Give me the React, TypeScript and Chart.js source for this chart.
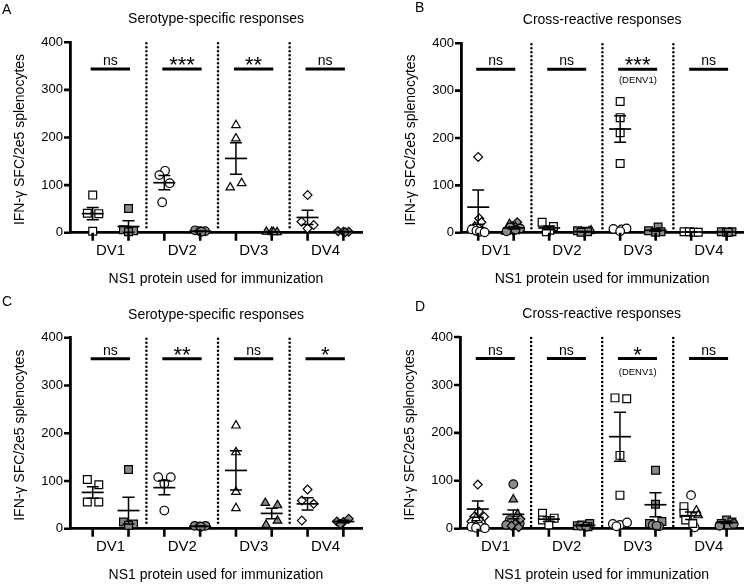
import React, { useEffect, useRef } from 'react';
import { Chart, registerables } from 'chart.js';
Chart.register(...registerables);

const FONT = "'Liberation Sans', Arial, Helvetica, sans-serif";
const GRAY = '#8a8a8a';
const INK = '#000';

// ---------- shared labels ----------
const categories = ['DV1', 'DV2', 'DV3', 'DV4'];
const yTicks = [0, 100, 200, 300, 400];
const slots = [0, 1, 2, 3, 4, 5, 6, 7];
const dividers = [1.5, 3.5, 5.5];
const xTitle = 'NS1 protein used for immunization';
const yTitle = 'IFN-γ SFC/2e5 splenocytes';
const titleSpecific = 'Serotype-specific responses';
const titleCross = 'Cross-reactive responses';
const noteText = '(DENV1)';

// ---------- Panel A : serotype-specific ----------
const aDV1Open = [79, 41, 40, 3];
const aDV1OpenJit = [0, -0.15, 0.17, 0];
const aDV1Filled = [51, 6, 4, 2];
const aDV1FilledJit = [0, -0.14, 0.14, 0];
const aDV2Open = [130, 121, 104, 64];
const aDV2OpenJit = [0.02, -0.14, 0.15, -0.06];
const aDV2Filled = [5, 3, 3, 2];
const aDV2FilledJit = [-0.14, 0, 0.14, 0.04];
const aDV3Open = [226, 198, 95, 104];
const aDV3OpenJit = [0, 0, -0.16, 0.16];
const aDV3Filled = [2, 2, 1, 1];
const aDV3FilledJit = [-0.15, 0, 0.15, 0.05];
const aDV4Open = [79, 23, 16, 9];
const aDV4OpenJit = [0, -0.17, 0.17, 0];
const aDV4Filled = [3, 2, 2, 1];
const aDV4FilledJit = [-0.15, 0, 0.15, 0.05];
const aMean = [40, 13, 105, 3, 156, 1.5, 32, 2];
const aSem = [13, 12, 15, 0.6, 33, 0.3, 15, 0.5];
const aSig = ['ns', '***', '**', 'ns'];
const aSigY = 344;

// ---------- Panel B : cross-reactive ----------
const bDV1OpenDiamond = [160, 30, 22, 4];
const bDV1OpenDiamondJit = [0, 0.03, 0.09, 0.12];
const bDV1OpenCircle = [7, 4, 2, 1];
const bDV1OpenCircleJit = [-0.18, -0.05, 0.05, 0.18];
const bDV1OpenTriangle = [13, 6, 3, 1];
const bDV1OpenTriangleJit = [-0.1, -0.22, 0.12, 0];
const bDV1FilledCircle = [11, 9, 6, 3];
const bDV1FilledCircleJit = [-0.1, 0.18, 0.05, -0.2];
const bDV1FilledTriangle = [18, 12, 6, 2];
const bDV1FilledTriangleJit = [-0.12, 0.05, 0.2, -0.22];
const bDV1FilledDiamond = [22, 14, 7, 3];
const bDV1FilledDiamondJit = [0.1, -0.05, 0.15, 0];
const bDV2OpenSquare = [22, 13, 5, 2];
const bDV2OpenSquareJit = [-0.2, 0.12, 0.02, -0.08];
const bDV2FilledSquare = [4, 3, 2, 1];
const bDV2FilledSquareJit = [-0.2, 0, 0.08, -0.1];
const bDV2FilledTriangle = [5, 3];
const bDV2FilledTriangleJit = [0.18, 0.12];
const bDV3OpenSquare = [277, 243, 211, 146];
const bDV3OpenSquareJit = [0, 0, 0, 0];
const bDV3OpenCircle = [8, 7, 9, 3];
const bDV3OpenCircleJit = [-0.19, 0.04, 0.18, 0];
const bDV3FilledSquare = [12, 4, 2, 1];
const bDV3FilledSquareJit = [0.07, -0.2, 0.15, 0];
const bDV4OpenSquare = [2, 2, 1, 1];
const bDV4OpenSquareJit = [-0.2, -0.05, 0.08, 0.2];
const bDV4FilledSquare = [2, 2, 1, 1];
const bDV4FilledSquareJit = [-0.15, 0.15, 0, 0.05];
const bMean = [54, 10, 10, 2, 219, 5, 1.5, 1.5];
const bSem = [36, 2, 4, 0.5, 28, 2, 0.3, 0.3];
const bSig = ['ns', 'ns', '***', 'ns'];
const bSigY = 345;
const bNoteY = 321;

// ---------- Panel C : serotype-specific ----------
const cDV1Open = [103, 92, 56, 56];
const cDV1OpenJit = [-0.15, 0.17, -0.15, 0.17];
const cDV1Filled = [124, 14, 10, 7];
const cDV1FilledJit = [0, -0.14, 0.14, 0];
const cDV2Open = [108, 108, 94, 38];
const cDV2OpenJit = [-0.17, 0.18, 0, 0];
const cDV2Filled = [6, 5, 6, 4];
const cDV2FilledJit = [-0.15, 0, 0.15, 0.02];
const cDV3Open = [216, 160, 77, 43];
const cDV3OpenJit = [0, 0, 0, 0];
const cDV3Filled = [54, 49, 17, 8];
const cDV3FilledJit = [-0.18, 0.16, 0.16, -0.16];
const cDV4Open = [82, 59, 52, 17];
const cDV4OpenJit = [0, -0.16, 0.17, -0.16];
const cDV4Filled = [21, 15, 14, 10];
const cDV4FilledJit = [0.15, -0.18, 0, -0.08];
const cMean = [76, 38, 86, 5, 122, 32, 52, 15];
const cSem = [12, 28, 15, 0.5, 41, 11, 13, 2.5];
const cSig = ['ns', '**', 'ns', '*'];
const cSigY = 356;

// ---------- Panel D : cross-reactive ----------
const dDV1OpenDiamond = [92, 36, 25, 25, 15, 15];
const dDV1OpenDiamondJit = [0, 0.03, -0.1, 0.18, -0.18, 0.08];
const dDV1OpenTriangle = [22, 10, 5];
const dDV1OpenTriangleJit = [-0.05, 0.15, -0.15];
const dDV1OpenCircle = [4, 4, 2, 1];
const dDV1OpenCircleJit = [-0.18, 0.08, -0.05, 0.2];
const dDV1FilledCircle = [93, 18, 11, 8];
const dDV1FilledCircleJit = [0, -0.1, 0.18, -0.2];
const dDV1FilledTriangle = [61, 30, 12, 5];
const dDV1FilledTriangleJit = [0, 0.12, -0.15, 0.05];
const dDV1FilledDiamond = [20, 10, 6, 3];
const dDV1FilledDiamondJit = [0.2, 0.05, -0.05, 0.15];
const dDV2OpenSquare = [32, 22, 18, 8];
const dDV2OpenSquareJit = [-0.18, 0.15, -0.18, 0];
const dDV2FilledSquare = [11, 8, 6, 4];
const dDV2FilledSquareJit = [0.15, -0.08, -0.2, 0.1];
const dDV2FilledCircle = [6, 4];
const dDV2FilledCircleJit = [-0.1, 0.05];
const dDV3OpenSquare = [273, 271, 153, 70];
const dDV3OpenSquareJit = [-0.14, 0.19, 0, 0];
const dDV3OpenCircle = [10, 8, 13, 5];
const dDV3OpenCircleJit = [-0.2, 0, 0.2, -0.1];
const dDV3FilledSquare = [122, 51, 15, 11];
const dDV3FilledSquareJit = [0, 0, 0.18, -0.17];
const dDV3FilledCircle = [8, 5, 6];
const dDV3FilledCircleJit = [-0.08, 0.1, 0.03];
const dDV4OpenSquare = [46, 32, 18, 11];
const dDV4OpenSquareJit = [-0.2, -0.2, -0.15, 0.05];
const dDV4OpenCircle = [70, 3];
const dDV4OpenCircleJit = [0, 0.1];
const dDV4OpenTriangle = [38, 28];
const dDV4OpenTriangleJit = [0.15, 0.2];
const dDV4FilledSquare = [18, 14, 11, 8];
const dDV4FilledSquareJit = [0, 0.15, -0.15, 0.05];
const dDV4FilledCircle = [10, 6];
const dDV4FilledCircleJit = [0.2, -0.2];
const dMean = [41, 30, 20, 7, 192, 50, 27, 13];
const dSem = [17, 9, 5, 1.5, 51, 25, 8, 2];
const dSig = ['ns', 'ns', '*', 'ns'];
const dSigY = 355;
const dNoteY = 327;

// ---------- styling ----------
const RADIUS: Record<string, number> = { rect: 5.5, circle: 4.3, triangle: 4.9, rectRot: 4.4 };

type Series = { slot: number; shape: string; filled: boolean; values: number[]; jitter: number[] };
const grp = (slot: number, shape: string, filled: boolean, values: number[], jitter: number[]): Series => ({ slot, shape, filled, values, jitter });

const seriesA: Series[] = [
  grp(0, 'rect', false, aDV1Open, aDV1OpenJit), grp(1, 'rect', true, aDV1Filled, aDV1FilledJit),
  grp(2, 'circle', false, aDV2Open, aDV2OpenJit), grp(3, 'circle', true, aDV2Filled, aDV2FilledJit),
  grp(4, 'triangle', false, aDV3Open, aDV3OpenJit), grp(5, 'triangle', true, aDV3Filled, aDV3FilledJit),
  grp(6, 'rectRot', false, aDV4Open, aDV4OpenJit), grp(7, 'rectRot', true, aDV4Filled, aDV4FilledJit),
];
const seriesB: Series[] = [
  grp(0, 'circle', false, bDV1OpenCircle, bDV1OpenCircleJit), grp(0, 'triangle', false, bDV1OpenTriangle, bDV1OpenTriangleJit),
  grp(0, 'rectRot', false, bDV1OpenDiamond, bDV1OpenDiamondJit),
  grp(1, 'circle', true, bDV1FilledCircle, bDV1FilledCircleJit), grp(1, 'triangle', true, bDV1FilledTriangle, bDV1FilledTriangleJit),
  grp(1, 'rectRot', true, bDV1FilledDiamond, bDV1FilledDiamondJit),
  grp(2, 'rect', false, bDV2OpenSquare, bDV2OpenSquareJit),
  grp(3, 'rect', true, bDV2FilledSquare, bDV2FilledSquareJit), grp(3, 'triangle', true, bDV2FilledTriangle, bDV2FilledTriangleJit),
  grp(4, 'circle', false, bDV3OpenCircle, bDV3OpenCircleJit), grp(4, 'rect', false, bDV3OpenSquare, bDV3OpenSquareJit),
  grp(5, 'rect', true, bDV3FilledSquare, bDV3FilledSquareJit),
  grp(6, 'rect', false, bDV4OpenSquare, bDV4OpenSquareJit),
  grp(7, 'rect', true, bDV4FilledSquare, bDV4FilledSquareJit),
];
const seriesC: Series[] = [
  grp(0, 'rect', false, cDV1Open, cDV1OpenJit), grp(1, 'rect', true, cDV1Filled, cDV1FilledJit),
  grp(2, 'circle', false, cDV2Open, cDV2OpenJit), grp(3, 'circle', true, cDV2Filled, cDV2FilledJit),
  grp(4, 'triangle', false, cDV3Open, cDV3OpenJit), grp(5, 'triangle', true, cDV3Filled, cDV3FilledJit),
  grp(6, 'rectRot', false, cDV4Open, cDV4OpenJit), grp(7, 'rectRot', true, cDV4Filled, cDV4FilledJit),
];
const seriesD: Series[] = [
  grp(0, 'circle', false, dDV1OpenCircle, dDV1OpenCircleJit), grp(0, 'triangle', false, dDV1OpenTriangle, dDV1OpenTriangleJit),
  grp(0, 'rectRot', false, dDV1OpenDiamond, dDV1OpenDiamondJit),
  grp(1, 'rectRot', true, dDV1FilledDiamond, dDV1FilledDiamondJit), grp(1, 'circle', true, dDV1FilledCircle, dDV1FilledCircleJit),
  grp(1, 'triangle', true, dDV1FilledTriangle, dDV1FilledTriangleJit),
  grp(2, 'rect', false, dDV2OpenSquare, dDV2OpenSquareJit),
  grp(3, 'circle', true, dDV2FilledCircle, dDV2FilledCircleJit), grp(3, 'rect', true, dDV2FilledSquare, dDV2FilledSquareJit),
  grp(4, 'circle', false, dDV3OpenCircle, dDV3OpenCircleJit), grp(4, 'rect', false, dDV3OpenSquare, dDV3OpenSquareJit),
  grp(5, 'circle', true, dDV3FilledCircle, dDV3FilledCircleJit), grp(5, 'rect', true, dDV3FilledSquare, dDV3FilledSquareJit),
  grp(6, 'triangle', false, dDV4OpenTriangle, dDV4OpenTriangleJit), grp(6, 'rect', false, dDV4OpenSquare, dDV4OpenSquareJit),
  grp(6, 'circle', false, dDV4OpenCircle, dDV4OpenCircleJit),
  grp(7, 'circle', true, dDV4FilledCircle, dDV4FilledCircleJit), grp(7, 'rect', true, dDV4FilledSquare, dDV4FilledSquareJit),
];

type PanelCfg = {
  letter: string; ox: number; oy: number; letterX: number; letterY: number; title: string;
  area: { l: number; t: number; r: number; b: number }; xMin: number; xMax: number;
  series: Series[]; means: number[]; sems: number[]; sig: string[]; sigY: number; noteY: number | null;
};

const W = 375;
const H = 292;

const panels: PanelCfg[] = [
  { letter: 'A', ox: 0, oy: 0, letterX: 2, letterY: 10, title: titleSpecific, area: { l: 70, t: 42.3, r: 362, b: 232.7 }, xMin: -0.634, xMax: 7.52, series: seriesA, means: aMean, sems: aSem, sig: aSig, sigY: aSigY, noteY: null },
  { letter: 'B', ox: 375, oy: 0, letterX: 40, letterY: 8.5, title: titleCross, area: { l: 86, t: 43.3, r: 370, b: 232.7 }, xMin: -0.485, xMax: 7.47, series: seriesB, means: bMean, sems: bSem, sig: bSig, sigY: bSigY, noteY: bNoteY },
  { letter: 'C', ox: 0, oy: 292, letterX: 2, letterY: 10, title: titleSpecific, area: { l: 70, t: 45.7, r: 362, b: 236.7 }, xMin: -0.634, xMax: 7.52, series: seriesC, means: cMean, sems: cSem, sig: cSig, sigY: cSigY, noteY: null },
  { letter: 'D', ox: 375, oy: 292, letterX: 40, letterY: 15, title: titleCross, area: { l: 85, t: 45, r: 370, b: 236.7 }, xMin: -0.5, xMax: 7.47, series: seriesD, means: dMean, sems: dSem, sig: dSig, sigY: dSigY, noteY: dNoteY },
];

function drawCenteredGlyphs(ctx: CanvasRenderingContext2D, s: string, x: number, cy: number) {
  const m = ctx.measureText(s);
  const asc = m.actualBoundingBoxAscent;
  const desc = m.actualBoundingBoxDescent;
  ctx.textBaseline = 'alphabetic';
  ctx.fillText(s, x, cy + (asc - desc) / 2);
}

function Panel({ cfg }: { cfg: PanelCfg }) {
  const ref = useRef<HTMLCanvasElement>(null);
  useEffect(() => {
    const canvas = ref.current!;
    const area = cfg.area;
    const decor = {
      id: 'decor' + cfg.letter,
      beforeDatasetsDraw(chart: any) {
        const ctx = chart.ctx as CanvasRenderingContext2D;
        const xs = chart.scales.x;
        const ca = chart.chartArea;
        ctx.save();
        ctx.strokeStyle = '#000';
        ctx.lineWidth = 2.6;
        ctx.lineCap = 'round';
        ctx.setLineDash([0, 4]);
        for (const d of dividers) {
          const x = xs.getPixelForValue(d);
          ctx.beginPath();
          ctx.moveTo(x, ca.top + 1);
          ctx.lineTo(x, ca.bottom - 2);
          ctx.stroke();
        }
        ctx.restore();
      },
      afterDatasetsDraw(chart: any) {
        const ctx = chart.ctx as CanvasRenderingContext2D;
        const xs = chart.scales.x;
        const ys = chart.scales.y;
        ctx.save();
        ctx.strokeStyle = '#000';
        ctx.lineCap = 'butt';
        // mean ± SEM
        cfg.means.forEach((m, i) => {
          const x = xs.getPixelForValue(slots[i]);
          const yM = ys.getPixelForValue(m);
          const yT = ys.getPixelForValue(m + cfg.sems[i]);
          const yB = ys.getPixelForValue(Math.max(0, m - cfg.sems[i]));
          ctx.lineWidth = 1.5;
          ctx.beginPath();
          ctx.moveTo(x, yT); ctx.lineTo(x, yB);
          ctx.moveTo(x - 6, yT); ctx.lineTo(x + 6, yT);
          ctx.moveTo(x - 6, yB); ctx.lineTo(x + 6, yB);
          ctx.stroke();
          ctx.lineWidth = 1.7;
          ctx.beginPath();
          ctx.moveTo(x - 11, yM); ctx.lineTo(x + 11, yM);
          ctx.stroke();
        });
        // significance bars
        const yBar = ys.getPixelForValue(cfg.sigY);
        ctx.fillStyle = INK;
        ctx.textAlign = 'center';
        cfg.sig.forEach((label, k) => {
          const x1 = xs.getPixelForValue(slots[2 * k]) - 2;
          const x2 = xs.getPixelForValue(slots[2 * k + 1]) + 1.5;
          ctx.lineWidth = 3;
          ctx.beginPath();
          ctx.moveTo(x1, yBar); ctx.lineTo(x2, yBar);
          ctx.stroke();
          const cx = (x1 + x2) / 2;
          ctx.font = label.startsWith('*') ? `22px ${FONT}` : `14px ${FONT}`;
          drawCenteredGlyphs(ctx, label, cx, yBar - 8);
        });
        if (cfg.noteY !== null) {
          ctx.font = `9.5px ${FONT}`;
          ctx.textBaseline = 'middle';
          const cx = (xs.getPixelForValue(slots[4]) + xs.getPixelForValue(slots[5])) / 2;
          ctx.fillText(noteText, cx, ys.getPixelForValue(cfg.noteY));
        }
        ctx.restore();
      },
      afterDraw(chart: any) {
        const ctx = chart.ctx as CanvasRenderingContext2D;
        const xs = chart.scales.x;
        const ys = chart.scales.y;
        const ca = chart.chartArea;
        const cxA = (ca.left + ca.right) / 2;
        ctx.save();
        // axis tick marks
        ctx.strokeStyle = '#000';
        ctx.lineWidth = 2.6;
        ctx.lineCap = 'butt';
        ctx.beginPath();
        for (const s of slots) {
          const x = xs.getPixelForValue(s);
          ctx.moveTo(x, ca.bottom);
          ctx.lineTo(x, ca.bottom + 8);
        }
        for (const t of yTicks) {
          const y = ys.getPixelForValue(t);
          ctx.moveTo(ca.left, y);
          ctx.lineTo(ca.left - 6, y);
        }
        ctx.stroke();

        ctx.fillStyle = INK;
        ctx.textBaseline = 'middle';
        // panel letter
        ctx.font = `14px ${FONT}`;
        ctx.textAlign = 'left';
        ctx.fillText(cfg.letter, cfg.letterX, cfg.letterY);
        // title
        ctx.textAlign = 'center';
        ctx.fillText(cfg.title, cxA, ca.top - 23);
        // categories
        ctx.font = `15px ${FONT}`;
        categories.forEach((c, k) => {
          const x = (xs.getPixelForValue(slots[2 * k]) + xs.getPixelForValue(slots[2 * k + 1])) / 2;
          ctx.fillText(c, x, ca.bottom + 18);
        });
        // x title
        ctx.font = `14px ${FONT}`;
        ctx.fillText(xTitle, cxA, ca.bottom + 46);
        // y title
        ctx.translate(ca.left - 50, (ca.top + ca.bottom) / 2 + 2);
        ctx.rotate(-Math.PI / 2);
        ctx.fillText(yTitle, 0, 0);
        ctx.restore();
      },
    };

    const datasets = cfg.series.map((s) => ({
      type: 'scatter' as const,
      data: s.values.map((v, i) => ({ x: slots[s.slot] + s.jitter[i], y: v })),
      pointStyle: s.shape as any,
      pointRadius: RADIUS[s.shape],
      pointBackgroundColor: s.filled ? GRAY : '#ffffff',
      pointBorderColor: '#000',
      pointBorderWidth: 1.2,
      showLine: false,
      clip: false as any,
    }));

    const chart = new Chart(canvas, {
      type: 'scatter',
      data: { datasets },
      plugins: [decor],
      options: {
        animation: false,
        responsive: false,
        devicePixelRatio: 1,
        events: [],
        layout: { padding: { left: 0, top: area.t, right: W - area.r, bottom: 0 } },
        plugins: { legend: { display: false }, tooltip: { enabled: false }, title: { display: false } },
        scales: {
          x: {
            type: 'linear',
            min: cfg.xMin,
            max: cfg.xMax,
            afterBuildTicks: (s: any) => { s.ticks = slots.map((v) => ({ value: v })); },
            afterFit: (s: any) => { s.height = H - area.b; },
            ticks: { callback: () => '', autoSkip: false, padding: 0 },
            grid: { drawOnChartArea: false, drawTicks: false },
            border: { display: true, color: '#000', width: 2.8 },
          },
          y: {
            type: 'linear',
            min: 0,
            max: 400,
            afterBuildTicks: (s: any) => { s.ticks = yTicks.map((v) => ({ value: v })); },
            afterFit: (s: any) => { s.width = area.l; },
            ticks: { font: { family: FONT, size: 13 }, color: INK, padding: 7 },
            grid: { drawOnChartArea: false, drawTicks: false },
            border: { display: true, color: '#000', width: 2.8 },
          },
        },
      } as any,
    });
    return () => chart.destroy();
  }, [cfg]);
  return (
    <canvas
      ref={ref}
      width={W}
      height={H}
      style={{ position: 'absolute', left: cfg.ox, top: cfg.oy, width: W, height: H }}
    />
  );
}

export default function App() {
  return (
    <div style={{ position: 'absolute', left: 0, top: 0, width: 750, height: 584, background: '#fff' }}>
      {panels.map((p) => (
        <Panel key={p.letter} cfg={p} />
      ))}
    </div>
  );
}
